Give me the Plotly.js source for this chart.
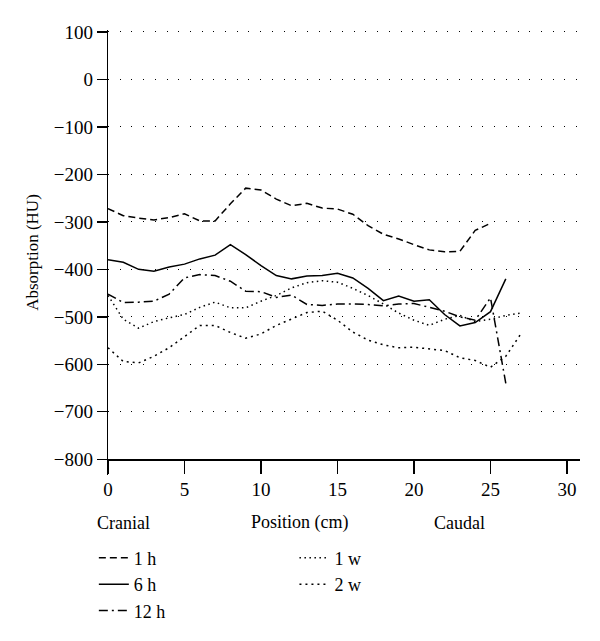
<!DOCTYPE html>
<html>
<head>
<meta charset="utf-8">
<script src="https://cdn.plot.ly/plotly-3.0.1.min.js"></script>
<style>html,body{margin:0;padding:0;background:#fff;}#chart{width:600px;height:641px;}</style>
</head>
<body>
<div id="chart"></div>
<script>
// Position along the body (cm)
const pos1h  = [0,1,2,3,4,5,6,7,8,9,10,11,12,13,14,15,16,17,18,19,20,21,22,23,24,25];
const hu1h   = [-272,-287,-292,-296,-291,-283,-298,-298,-262,-229,-233,-252,-266,-261,-271,-273,-284,-308,-326,-336,-348,-359,-363,-362,-318,-303];

const pos6h  = [0,1,2,3,4,5,6,7,8,9,10,11,12,13,14,15,16,17,18,19,20,21,22,23,24,25,26];
const hu6h   = [-380,-385,-400,-404,-395,-389,-378,-370,-348,-369,-392,-413,-420,-414,-413,-408,-418,-440,-466,-456,-467,-464,-495,-519,-512,-489,-420];

const pos12h = [0,1,2,3,4,5,6,7,8,9,10,11,12,13,14,15,16,17,18,19,20,21,22,23,24,25,26];
const hu12h  = [-452,-470,-469,-467,-452,-418,-411,-413,-425,-446,-447,-459,-454,-474,-476,-473,-473,-474,-477,-473,-472,-480,-488,-500,-507,-460,-640];

const pos1w  = [0,1,2,3,4,5,6,7,8,9,10,11,12,13,14,15,16,17,18,19,20,21,22,23,24,25,26,27];
const hu1w   = [-455,-505,-524,-510,-502,-495,-480,-469,-481,-481,-467,-455,-439,-428,-424,-427,-440,-455,-473,-492,-507,-518,-505,-497,-510,-505,-497,-492];

const pos2w  = [0,1,2,3,4,5,6,7,8,9,10,11,12,13,14,15,16,17,18,19,20,21,22,23,24,25,26,27];
const hu2w   = [-565,-594,-597,-583,-565,-542,-518,-518,-533,-545,-536,-518,-504,-491,-488,-507,-532,-549,-559,-565,-564,-567,-571,-586,-592,-606,-583,-535];

const seriesNames = ["1 h","6 h","12 h","1 w","2 w"];
const yTicks = [100,0,-100,-200,-300,-400,-500,-600,-700,-800];
const xTicks = [0,5,10,15,20,25,30];

const FONT = "Liberation Serif, Times New Roman, serif";
const lw = 1.5;

const traces = [
  {x: pos1h,  y: hu1h,  name: seriesNames[0], legend: "legend",  line: {color: "#000", width: lw, dash: "7px,4px"}},
  {x: pos6h,  y: hu6h,  name: seriesNames[1], legend: "legend",  line: {color: "#000", width: lw}},
  {x: pos12h, y: hu12h, name: seriesNames[2], legend: "legend",  line: {color: "#000", width: lw, dash: "9px,4px,2px,4px"}},
  {x: pos1w,  y: hu1w,  name: seriesNames[3], legend: "legend2", line: {color: "#000", width: lw, dash: "1.5px,3.5px"}},
  {x: pos2w,  y: hu2w,  name: seriesNames[4], legend: "legend2", line: {color: "#000", width: lw, dash: "2px,4px"}}
].map(t => Object.assign({type: "scatter", mode: "lines"}, t));

const legendCommon = {
  orientation: "v", yanchor: "top", xanchor: "left",
  font: {family: FONT, size: 18, color: "#000"},
  bgcolor: "rgba(0,0,0,0)", borderwidth: 0, itemwidth: 30, tracegroupgap: 0
};

const layout = {
  width: 600, height: 641,
  margin: {l: 108, r: 20, t: 30, b: 164},
  paper_bgcolor: "#fff", plot_bgcolor: "#fff",
  font: {family: FONT, size: 17, color: "#000"},
  showlegend: true,
  legend:  Object.assign({x: -0.03, y: -0.145}, legendCommon),
  legend2: Object.assign({x: 0.395, y: -0.145}, legendCommon),
  xaxis: {
    range: [0, 30.85], tickvals: xTicks, ticktext: xTicks.map(String),
    showgrid: false, zeroline: false,
    showline: true, linecolor: "#000", linewidth: 1.3,
    ticks: "outside", ticklen: 13, tickwidth: 1.3, tickcolor: "#000",
    anchor: "free", position: 33/937,
    tickfont: {family: FONT, size: 19, color: "#000"}
  },
  yaxis: {
    range: [-833, 104], tickvals: yTicks,
    showgrid: true, gridcolor: "#000", gridwidth: 1, griddash: "1px,10.7px",
    zeroline: false,
    showline: true, linecolor: "#000", linewidth: 1.3,
    ticks: "outside", ticklen: 10, tickwidth: 1.3, tickcolor: "#000",
    tickfont: {family: FONT, size: 19, color: "#000"},
    title: {text: "Absorption (HU)", font: {family: FONT, size: 17, color: "#000"}, standoff: 10}
  },
  annotations: [
    {text: "Cranial", xref: "paper", yref: "paper", x: -0.027, y: -0.107, xanchor: "left", yanchor: "middle", showarrow: false, font: {family: FONT, size: 18, color: "#000"}},
    {text: "Position (cm)", xref: "paper", yref: "paper", x: (300-108)/472, y: -0.107, xanchor: "center", yanchor: "middle", showarrow: false, font: {family: FONT, size: 18, color: "#000"}},
    {text: "Caudal", xref: "paper", yref: "paper", x: (459-108)/472, y: -0.107, xanchor: "center", yanchor: "middle", showarrow: false, font: {family: FONT, size: 18, color: "#000"}}
  ]
};

Plotly.newPlot("chart", traces, layout, {displayModeBar: false, staticPlot: true});
</script>
</body>
</html>
